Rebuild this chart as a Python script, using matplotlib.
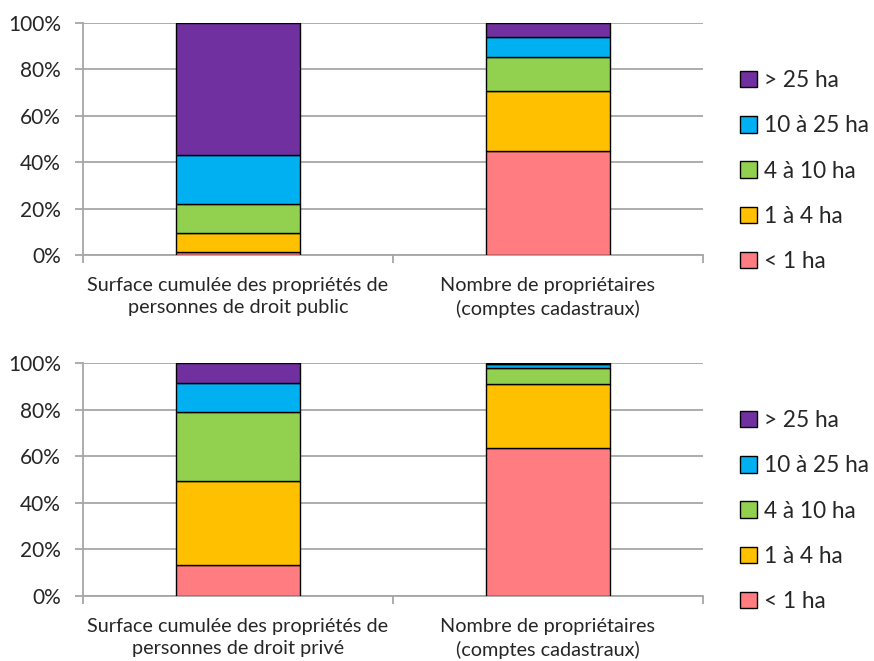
import numpy as np
import matplotlib
matplotlib.use("Agg")
import matplotlib.pyplot as plt
from matplotlib.patches import Patch
from matplotlib.ticker import FuncFormatter

plt.rcParams["font.family"] = ["Lato", "DejaVu Sans"]

classes = ["< 1 ha", "1 à 4 ha", "4 à 10 ha", "10 à 25 ha", "> 25 ha"]
colors = ["#FF7C80", "#FFC000", "#92D050", "#00B0F0", "#7030A0"]

labels_public = ["Surface cumulée des propriétés de\npersonnes de droit public",
                 "Nombre de propriétaires\n(comptes cadastraux)"]
labels_private = ["Surface cumulée des propriétés de\npersonnes de droit privé",
                  "Nombre de propriétaires\n(comptes cadastraux)"]

# share (%) per class: [surface, owners]
public_lt1 = [1.2, 44.8]
public_1_4 = [8.4, 25.7]
public_4_10 = [12.2, 14.7]
public_10_25 = [21.2, 8.9]
public_gt25 = [57.0, 5.9]

private_lt1 = [13.5, 63.5]
private_1_4 = [35.8, 27.6]
private_4_10 = [29.5, 6.9]
private_10_25 = [12.7, 1.6]
private_gt25 = [8.5, 0.4]

W, H = 874, 661
GRID = "#A6A6A6"
TEXT = "#262626"


def draw_panel(fig, rect_px, series, xlabels):
    x0, y0, x1, y1 = rect_px
    ax = fig.add_axes([x0 / W, 1 - y1 / H, (x1 - x0) / W, (y1 - y0) / H])
    x = np.arange(len(xlabels))
    bottom = np.zeros(len(xlabels))
    for vals, col in zip(series, colors):
        ax.bar(x, vals, width=0.4, bottom=bottom, color=col,
               edgecolor="black", linewidth=1.0, zorder=3)
        bottom += np.array(vals)

    ax.set_xlim(-0.5, len(xlabels) - 0.5)
    ax.set_ylim(0, 100)
    ax.set_yticks(np.arange(0, 101, 20))
    ax.yaxis.set_major_formatter(FuncFormatter(lambda v, p: f"{v:.0f}%"))
    ax.grid(True, axis="y", color=GRID, linewidth=1.3, zorder=0)

    ax.set_xticks(x)
    ax.set_xticklabels(xlabels, fontsize=14.3, color=TEXT, linespacing=1.36)
    ax.tick_params(axis="x", length=0, pad=16)
    ax.set_xticks(np.arange(-0.5, len(xlabels)), minor=True)
    ax.tick_params(axis="x", which="minor", length=6, width=1.3, color=GRID)
    ax.tick_params(axis="y", length=6, width=1.3, color=GRID,
                   labelsize=15, labelcolor=TEXT, pad=10)

    for side in ["top", "right"]:
        ax.spines[side].set_visible(False)
    for side in ["left", "bottom"]:
        ax.spines[side].set_color(GRID)
        ax.spines[side].set_linewidth(1.3)
    return ax


def add_legend(fig, top_px):
    handles = [Patch(facecolor=c, edgecolor="black", linewidth=1.0)
               for c in colors][::-1]
    fig.legend(handles, classes[::-1], loc="upper left",
               bbox_to_anchor=(731 / W, 1 - top_px / H),
               frameon=False, fontsize=16.3, labelspacing=1.07,
               handlelength=0.75, handleheight=0.75, handletextpad=0.3,
               borderaxespad=0, labelcolor=TEXT)


fig = plt.figure(figsize=(W / 100, H / 100), dpi=100)

draw_panel(fig, (83, 23, 703, 255),
           [public_lt1, public_1_4, public_4_10, public_10_25, public_gt25],
           labels_public)
draw_panel(fig, (83, 363, 703, 596),
           [private_lt1, private_1_4, private_4_10, private_10_25, private_gt25],
           labels_private)

add_legend(fig, 61)
add_legend(fig, 401)

fig.savefig("out.png", dpi=100)
